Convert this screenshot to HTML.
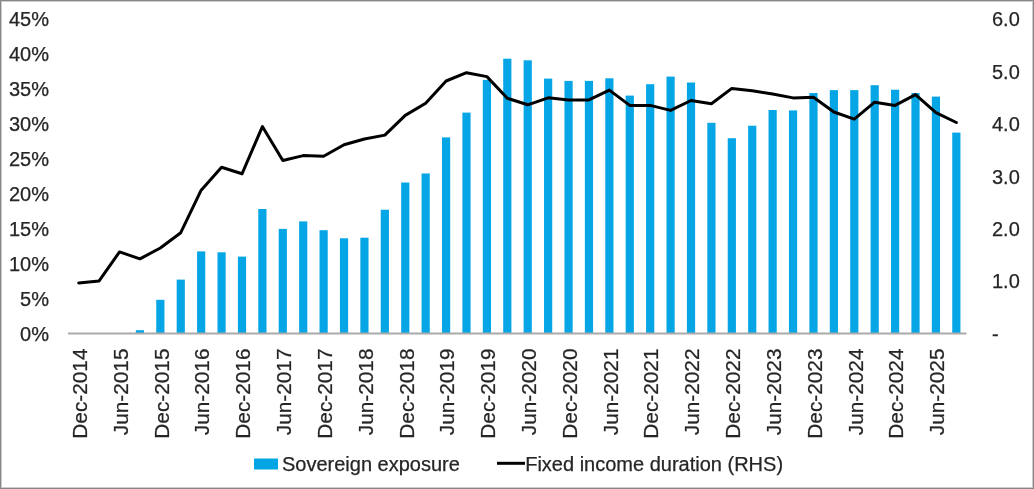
<!DOCTYPE html><html><head><meta charset="utf-8"><style>html,body{margin:0;padding:0;background:#fff;}body{width:1034px;height:489px;overflow:hidden;position:relative;}svg{position:absolute;left:0;top:0;filter:blur(0.45px);}text{font-family:"Liberation Sans",sans-serif;font-size:20px;fill:#262626;stroke:#262626;stroke-width:0.25px;}</style></head><body>
<svg width="1034" height="489" viewBox="0 0 1034 489">
<rect x="0" y="0" width="1034" height="489" fill="#fff"/>
<rect x="135.84" y="330.20" width="8.20" height="3.30" fill="#06A6E6"/>
<rect x="156.25" y="299.80" width="8.20" height="33.70" fill="#06A6E6"/>
<rect x="176.66" y="279.60" width="8.20" height="53.90" fill="#06A6E6"/>
<rect x="197.06" y="251.40" width="8.20" height="82.10" fill="#06A6E6"/>
<rect x="217.47" y="252.30" width="8.20" height="81.20" fill="#06A6E6"/>
<rect x="237.89" y="256.60" width="8.20" height="76.90" fill="#06A6E6"/>
<rect x="258.29" y="209.00" width="8.20" height="124.50" fill="#06A6E6"/>
<rect x="278.70" y="228.90" width="8.20" height="104.60" fill="#06A6E6"/>
<rect x="299.12" y="221.40" width="8.20" height="112.10" fill="#06A6E6"/>
<rect x="319.52" y="230.20" width="8.20" height="103.30" fill="#06A6E6"/>
<rect x="339.94" y="238.30" width="8.20" height="95.20" fill="#06A6E6"/>
<rect x="360.34" y="237.70" width="8.20" height="95.80" fill="#06A6E6"/>
<rect x="380.75" y="209.70" width="8.20" height="123.80" fill="#06A6E6"/>
<rect x="401.16" y="182.50" width="8.20" height="151.00" fill="#06A6E6"/>
<rect x="421.57" y="173.50" width="8.20" height="160.00" fill="#06A6E6"/>
<rect x="441.98" y="137.40" width="8.20" height="196.10" fill="#06A6E6"/>
<rect x="462.39" y="112.60" width="8.20" height="220.90" fill="#06A6E6"/>
<rect x="482.81" y="79.90" width="8.20" height="253.60" fill="#06A6E6"/>
<rect x="503.21" y="58.70" width="8.20" height="274.80" fill="#06A6E6"/>
<rect x="523.62" y="60.30" width="8.20" height="273.20" fill="#06A6E6"/>
<rect x="544.03" y="78.60" width="8.20" height="254.90" fill="#06A6E6"/>
<rect x="564.45" y="80.90" width="8.20" height="252.60" fill="#06A6E6"/>
<rect x="584.86" y="80.90" width="8.20" height="252.60" fill="#06A6E6"/>
<rect x="605.26" y="78.30" width="8.20" height="255.20" fill="#06A6E6"/>
<rect x="625.67" y="95.60" width="8.20" height="237.90" fill="#06A6E6"/>
<rect x="646.09" y="84.20" width="8.20" height="249.30" fill="#06A6E6"/>
<rect x="666.50" y="76.60" width="8.20" height="256.90" fill="#06A6E6"/>
<rect x="686.90" y="82.50" width="8.20" height="251.00" fill="#06A6E6"/>
<rect x="707.31" y="122.80" width="8.20" height="210.70" fill="#06A6E6"/>
<rect x="727.73" y="138.20" width="8.20" height="195.30" fill="#06A6E6"/>
<rect x="748.13" y="125.70" width="8.20" height="207.80" fill="#06A6E6"/>
<rect x="768.54" y="110.00" width="8.20" height="223.50" fill="#06A6E6"/>
<rect x="788.95" y="110.40" width="8.20" height="223.10" fill="#06A6E6"/>
<rect x="809.37" y="93.00" width="8.20" height="240.50" fill="#06A6E6"/>
<rect x="829.77" y="90.10" width="8.20" height="243.40" fill="#06A6E6"/>
<rect x="850.18" y="90.10" width="8.20" height="243.40" fill="#06A6E6"/>
<rect x="870.60" y="85.20" width="8.20" height="248.30" fill="#06A6E6"/>
<rect x="891.00" y="89.70" width="8.20" height="243.80" fill="#06A6E6"/>
<rect x="911.41" y="93.00" width="8.20" height="240.50" fill="#06A6E6"/>
<rect x="931.82" y="96.60" width="8.20" height="236.90" fill="#06A6E6"/>
<rect x="952.24" y="132.60" width="8.20" height="200.90" fill="#06A6E6"/>
<line x1="68" y1="333.5" x2="966.5" y2="333.5" stroke="#aaaaaa" stroke-width="2"/>
<polyline points="78.70,282.90 99.12,280.90 119.53,251.90 139.94,258.80 160.34,248.00 180.75,232.70 201.16,190.20 221.57,167.30 241.99,173.80 262.39,126.60 282.81,160.50 303.22,155.60 323.62,156.30 344.04,144.80 364.44,139.00 384.86,135.10 405.26,115.40 425.68,103.30 446.08,81.00 466.50,72.70 486.91,76.60 507.31,98.20 527.73,104.80 548.13,97.80 568.55,99.90 588.96,99.90 609.37,90.10 629.77,105.40 650.19,105.40 670.60,110.40 691.00,100.50 711.41,103.80 731.83,88.40 752.24,90.70 772.64,94.00 793.05,97.90 813.47,97.30 833.88,112.00 854.28,119.20 874.70,102.20 895.11,105.40 915.51,94.60 935.92,112.60 956.34,122.50" fill="none" stroke="#000" stroke-width="3" stroke-linejoin="round" stroke-linecap="round"/>
<text x="49" y="340.9" text-anchor="end">0%</text>
<text x="49" y="305.9" text-anchor="end">5%</text>
<text x="49" y="270.9" text-anchor="end">10%</text>
<text x="49" y="235.9" text-anchor="end">15%</text>
<text x="49" y="200.9" text-anchor="end">20%</text>
<text x="49" y="165.9" text-anchor="end">25%</text>
<text x="49" y="130.9" text-anchor="end">30%</text>
<text x="49" y="95.9" text-anchor="end">35%</text>
<text x="49" y="60.9" text-anchor="end">40%</text>
<text x="49" y="25.9" text-anchor="end">45%</text>
<text x="992" y="340.9">-</text>
<text x="992" y="288.4">1.0</text>
<text x="992" y="236.0">2.0</text>
<text x="992" y="183.5">3.0</text>
<text x="992" y="131.1">4.0</text>
<text x="992" y="78.6">5.0</text>
<text x="992" y="26.2">6.0</text>
<text transform="translate(79.61,348.5) rotate(-90)" text-anchor="end" x="0" y="7.4" style="font-size:20.8px">Dec-2014</text>
<text transform="translate(120.43,348.5) rotate(-90)" text-anchor="end" x="0" y="7.4" style="font-size:20.8px">Jun-2015</text>
<text transform="translate(161.25,348.5) rotate(-90)" text-anchor="end" x="0" y="7.4" style="font-size:20.8px">Dec-2015</text>
<text transform="translate(202.06,348.5) rotate(-90)" text-anchor="end" x="0" y="7.4" style="font-size:20.8px">Jun-2016</text>
<text transform="translate(242.89,348.5) rotate(-90)" text-anchor="end" x="0" y="7.4" style="font-size:20.8px">Dec-2016</text>
<text transform="translate(283.70,348.5) rotate(-90)" text-anchor="end" x="0" y="7.4" style="font-size:20.8px">Jun-2017</text>
<text transform="translate(324.52,348.5) rotate(-90)" text-anchor="end" x="0" y="7.4" style="font-size:20.8px">Dec-2017</text>
<text transform="translate(365.34,348.5) rotate(-90)" text-anchor="end" x="0" y="7.4" style="font-size:20.8px">Jun-2018</text>
<text transform="translate(406.16,348.5) rotate(-90)" text-anchor="end" x="0" y="7.4" style="font-size:20.8px">Dec-2018</text>
<text transform="translate(446.98,348.5) rotate(-90)" text-anchor="end" x="0" y="7.4" style="font-size:20.8px">Jun-2019</text>
<text transform="translate(487.81,348.5) rotate(-90)" text-anchor="end" x="0" y="7.4" style="font-size:20.8px">Dec-2019</text>
<text transform="translate(528.62,348.5) rotate(-90)" text-anchor="end" x="0" y="7.4" style="font-size:20.8px">Jun-2020</text>
<text transform="translate(569.45,348.5) rotate(-90)" text-anchor="end" x="0" y="7.4" style="font-size:20.8px">Dec-2020</text>
<text transform="translate(610.26,348.5) rotate(-90)" text-anchor="end" x="0" y="7.4" style="font-size:20.8px">Jun-2021</text>
<text transform="translate(651.09,348.5) rotate(-90)" text-anchor="end" x="0" y="7.4" style="font-size:20.8px">Dec-2021</text>
<text transform="translate(691.90,348.5) rotate(-90)" text-anchor="end" x="0" y="7.4" style="font-size:20.8px">Jun-2022</text>
<text transform="translate(732.73,348.5) rotate(-90)" text-anchor="end" x="0" y="7.4" style="font-size:20.8px">Dec-2022</text>
<text transform="translate(773.54,348.5) rotate(-90)" text-anchor="end" x="0" y="7.4" style="font-size:20.8px">Jun-2023</text>
<text transform="translate(814.37,348.5) rotate(-90)" text-anchor="end" x="0" y="7.4" style="font-size:20.8px">Dec-2023</text>
<text transform="translate(855.18,348.5) rotate(-90)" text-anchor="end" x="0" y="7.4" style="font-size:20.8px">Jun-2024</text>
<text transform="translate(896.00,348.5) rotate(-90)" text-anchor="end" x="0" y="7.4" style="font-size:20.8px">Dec-2024</text>
<text transform="translate(936.82,348.5) rotate(-90)" text-anchor="end" x="0" y="7.4" style="font-size:20.8px">Jun-2025</text>
<rect x="254" y="458.5" width="24" height="11" fill="#06A6E6"/>
<text x="282" y="470.8">Sovereign exposure</text>
<line x1="497" y1="463.3" x2="525" y2="463.3" stroke="#000" stroke-width="3"/>
<text x="525.2" y="470.8">Fixed income duration (RHS)</text>
</svg>
<div style="position:absolute;left:0;top:0;width:1032px;height:487px;border:1px solid #868686;"></div>
<div style="position:absolute;left:1px;top:1px;width:1030px;height:485px;border:1px solid #cdcdcd;"></div>
</body></html>
